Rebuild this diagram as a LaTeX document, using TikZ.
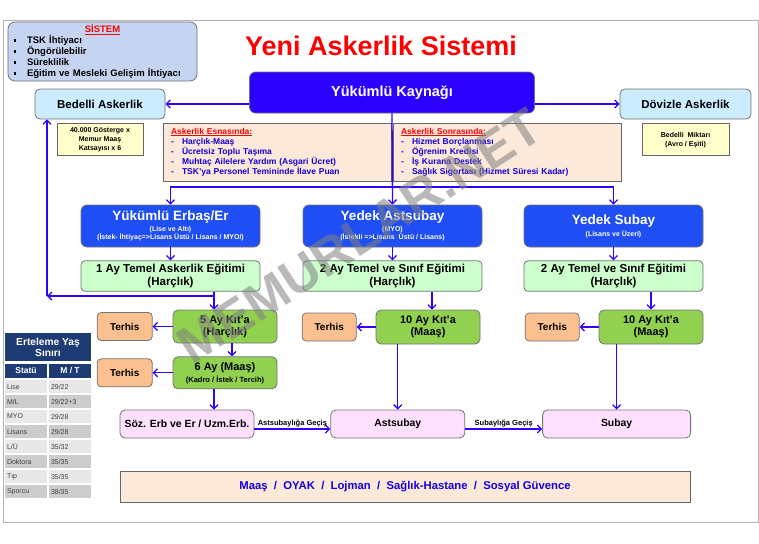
\documentclass[tikz,border=0pt]{standalone}
\usepackage{fontspec}
\setmainfont{Liberation Sans}
\usetikzlibrary{arrows.meta,positioning}
\definecolor{sysfill}{RGB}{197,212,240}
\definecolor{bedfill}{RGB}{204,236,255}
\definecolor{notefill}{RGB}{255,255,204}
\definecolor{peach}{RGB}{252,233,217}
\definecolor{srcblue}{RGB}{43,0,255}
\definecolor{rankblue}{RGB}{31,78,245}
\definecolor{lightgreen}{RGB}{204,255,204}
\definecolor{darkgreen}{RGB}{146,208,80}
\definecolor{orangebox}{RGB}{250,192,144}
\definecolor{pinkbox}{RGB}{255,224,255}
\definecolor{arrowblue}{RGB}{51,0,255}
\definecolor{itemblue}{RGB}{20,0,220}
\definecolor{tabhead}{RGB}{31,59,115}
\definecolor{rowlight}{RGB}{232,232,232}
\definecolor{rowdark}{RGB}{204,204,204}
\newcommand{\blt}{\makebox[15pt][l]{\hspace{2pt}\rule[1.8pt]{2.4pt}{2.4pt}}}
\newcommand{\dsh}{\makebox[11pt][l]{-}}
\tikzset{sysbox/.style={rectangle,rounded corners=7pt,draw=black!55,fill=sysfill,thick,minimum width=189pt,minimum height=59pt,text width=181pt,inner xsep=4pt,inner ysep=1pt,align=left,font=\fontsize{9.5}{11}\selectfont\bfseries}}
\tikzset{askbox/.style={rectangle,rounded corners=5pt,draw=black!55,fill=bedfill,thick,minimum width=130pt,minimum height=30pt,font=\fontsize{11.5}{13}\selectfont\bfseries}}
\tikzset{notebox/.style={rectangle,draw=black!60,fill=notefill,thick,minimum width=86pt,minimum height=32pt,align=center,font=\fontsize{7}{9}\selectfont\bfseries}}
\tikzset{srcbox/.style={rectangle,rounded corners=6pt,draw=black!55,fill=srcblue,thick,minimum width=285pt,minimum height=41pt,text=white,font=\fontsize{14.5}{16}\selectfont\bfseries}}
\tikzset{perkbox/.style={rectangle,draw=black!60,fill=peach,thick,minimum width=228pt,minimum height=58pt,text width=212pt,inner xsep=8pt,align=left,text=itemblue,font=\fontsize{8.5}{10}\selectfont\bfseries}}
\tikzset{rankbox/.style={rectangle,rounded corners=6pt,draw=black!55,fill=rankblue,thick,minimum width=179pt,minimum height=42pt,align=center,text=white,font=\fontsize{7}{8.5}\selectfont\bfseries}}
\tikzset{trainbox/.style={rectangle,rounded corners=4pt,draw=black!55,fill=lightgreen,thick,minimum width=179pt,minimum height=28pt,align=center,font=\fontsize{11.5}{13}\selectfont\bfseries}}
\tikzset{dutybox/.style={rectangle,rounded corners=5pt,draw=black!55,fill=darkgreen,thick,minimum width=104pt,minimum height=33pt,align=center,font=\fontsize{11}{12}\selectfont\bfseries}}
\tikzset{endbox/.style={rectangle,rounded corners=4pt,draw=black!55,fill=orangebox,thick,minimum width=55pt,minimum height=28pt,font=\fontsize{10}{12}\selectfont\bfseries}}
\tikzset{careerbox/.style={rectangle,rounded corners=5pt,draw=black!55,fill=pinkbox,thick,minimum height=28pt,font=\fontsize{10.4}{12}\selectfont\bfseries}}
\tikzset{gainbar/.style={rectangle,draw=black!60,fill=peach,thick,minimum width=570pt,minimum height=31pt,text=itemblue,font=\fontsize{11.3}{13}\selectfont\bfseries}}
\tikzset{headcell/.style={rectangle,fill=tabhead,text=white,minimum width=42pt,minimum height=14pt,inner sep=0pt,font=\fontsize{8.5}{10}\selectfont\bfseries}}
\tikzset{cell/.style={rectangle,minimum height=13pt,text width=38pt,inner xsep=2pt,inner ysep=0pt,align=left,text=black!75,font=\fontsize{7}{8}\selectfont}}
\tikzset{toArrow/.style={-{Straight Barb[length=4pt,width=8pt]},line width=1.3pt,draw=arrowblue}}
\tikzset{stepLabel/.style={above,inner sep=1.5pt,font=\fontsize{7.5}{9}\selectfont\bfseries}}

\begin{document}
\begin{tikzpicture}[x=1pt,y=-1pt]
\useasboundingbox (0,0) rectangle (759,543);
\draw[black!30,thick] (3,20) rectangle (758,522);

% top row
\node (sistem) [sysbox] at (102.5,51.5) {\makebox[181pt]{\textcolor{red}{\underline{SİSTEM}}}\\ \blt TSK İhtiyacı\\ \blt Öngörülebilir\\ \blt Süreklilik\\ \blt Eğitim ve Mesleki Gelişim İhtiyacı};
\node (title) at (381,46) [text=red,font=\fontsize{27}{30}\selectfont\bfseries] {Yeni Askerlik Sistemi};
\node (kaynak) [srcbox] at (392,92.5) {Yükümlü Kaynağı};
\node (bedelli) [askbox] at (100,104) {Bedelli Askerlik};
\node (doviz) [askbox, minimum width=131pt] at (685.5,104) {Dövizle Askerlik};
\node (bedelnote) [notebox, below=4pt of bedelli] {40.000 Gösterge x\\Memur Maaş\\Katsayısı x 6};
\node (dovnote) [notebox, minimum width=87pt, below=4pt of doviz] {Bedelli\ \ Miktarı\\(Avro / Eşiti)};
\node (esnasi) [perkbox] at (277,152) {\textcolor{red}{\underline{Askerlik Esnasında:}}\\ \dsh Harçlık-Maaş\\ \dsh Ücretsiz Toplu Taşıma\\ \dsh Muhtaç Ailelere Yardım (Asgari Ücret)\\ \dsh TSK'ya Personel Temininde İlave Puan};
\node (sonrasi) [perkbox] at (507,152) {\textcolor{red}{\underline{Askerlik Sonrasında:}}\\ \dsh Hizmet Borçlanması\\ \dsh Öğrenim Kredisi\\ \dsh İş Kurana Destek\\ \dsh Sağlık Sigortası (Hizmet Süresi Kadar)};

% three branches
\node (erbas) [rankbox] at (170.5,226) {{\fontsize{13.5}{15}\selectfont Yükümlü Erbaş/Er}\\[2pt](Lise ve Altı)\\(İstek- İhtiyaç=>Lisans Üstü / Lisans / MYO/)};
\node (astsubay) [rankbox] at (392.5,226) {{\fontsize{13.5}{15}\selectfont Yedek Astsubay}\\[2pt](MYO)\\(İstekli =>Lisans\ \ Üstü / Lisans)};
\node (subay) [rankbox] at (613.5,226) {{\fontsize{13.5}{15}\selectfont Yedek Subay}\\[2pt](Lisans ve Üzeri)};
\node (egitim1) [trainbox, below=13pt of erbas] {1 Ay Temel Askerlik Eğitimi\\(Harçlık)};
\node (egitim2) [trainbox, below=13pt of astsubay] {2 Ay Temel ve Sınıf Eğitimi\\(Harçlık)};
\node (egitim3) [trainbox, below=13pt of subay] {2 Ay Temel ve Sınıf Eğitimi\\(Harçlık)};

% duty
\node (kita5) [dutybox] at (225,326.5) {5 Ay Kıt’a\\(Harçlık)};
\node (maas6) [dutybox, minimum height=32pt, below=13pt of kita5] {6 Ay (Maaş)\\{\fontsize{7.5}{9}\selectfont (Kadro / İstek / Tercih)}};
\node (kita10a) [dutybox, minimum height=34pt] at (428,327) {10 Ay Kıt’a\\(Maaş)};
\node (kita10b) [dutybox, minimum height=34pt] at (651,327) {10 Ay Kıt’a\\(Maaş)};
\node (terhisA) [endbox, left=20pt of kita5] {Terhis};
\node (terhisB) [endbox, left=20pt of maas6] {Terhis};
\node (terhisC) [endbox, minimum width=54pt, left=19pt of kita10a] {Terhis};
\node (terhisD) [endbox, minimum width=54pt, left=19pt of kita10b] {Terhis};

% career
\node (sozerb) [careerbox, minimum width=134pt] at (187,424) {Söz. Erb ve Er / Uzm.Erb.};
\node (astsubayP) [careerbox, minimum width=134pt, right=76pt of sozerb] {Astsubay};
\node (subayP) [careerbox, minimum width=148pt, right=77pt of astsubayP] {Subay};
\node (haklar) [gainbar] at (405,486.5) {Maaş\ \ /\ \ OYAK\ \ /\ \ Lojman\ \ /\ \ Sağlık-Hastane\ \ /\ \ Sosyal Güvence};

% deferral table
\node (erteleme) [headcell, minimum width=86pt, minimum height=28pt, align=center, font=\fontsize{10.2}{11}\selectfont\bfseries] at (48,347) {Erteleme Yaş\\Sınırı};
\node (statu) [headcell] at (26,370.5) {Statü};
\node (mt) [headcell] at (70,370.5) {M / T};
\node (c11) [cell, fill=rowlight] at (26,386.5) {Lise};
\node (c12) [cell, fill=rowlight] at (70,386.5) {29/22};
\node (c21) [cell, fill=rowdark] at (26,401.5) {M/L};
\node (c22) [cell, fill=rowdark] at (70,401.5) {29/22+3};
\node (c31) [cell, fill=rowlight] at (26,416.5) {MYO};
\node (c32) [cell, fill=rowlight] at (70,416.5) {29/28};
\node (c41) [cell, fill=rowdark] at (26,431.5) {Lisans};
\node (c42) [cell, fill=rowdark] at (70,431.5) {29/28};
\node (c51) [cell, fill=rowlight] at (26,446.5) {L/Ü};
\node (c52) [cell, fill=rowlight] at (70,446.5) {35/32};
\node (c61) [cell, fill=rowdark] at (26,461.5) {Doktora};
\node (c62) [cell, fill=rowdark] at (70,461.5) {35/35};
\node (c71) [cell, fill=rowlight] at (26,476.5) {Tıp};
\node (c72) [cell, fill=rowlight] at (70,476.5) {35/35};
\node (c81) [cell, fill=rowdark] at (26,491.5) {Sporcu};
\node (c82) [cell, fill=rowdark] at (70,491.5) {38/35};

% connectors
\coordinate (bus) at (392,187);
\coordinate (erbdrop) at (214,296);
\coordinate (bedcorner) at (47,296);
\draw[toArrow] (kaynak.west |- bedelli.east) -- (bedelli.east);
\draw[toArrow] (kaynak.east |- doviz.west) -- (doviz.west);
\draw[toArrow] (kaynak.south) -- (astsubay.north);
\draw[toArrow] (bus) -| (erbas.north);
\draw[toArrow] (bus) -| (subay.north);
\draw[toArrow] (erbas.south) -- (egitim1.north);
\draw[toArrow] (astsubay.south) -- (egitim2.north);
\draw[toArrow] (subay.south) -- (egitim3.north);
\draw[toArrow] (egitim1.south -| erbdrop) -- (kita5.north -| erbdrop);
\draw[toArrow] (egitim1.south -| erbdrop) |- (bedcorner);
\draw[toArrow] (bedcorner) -- (bedelli.south -| bedcorner);
\draw[toArrow] ([xshift=7pt]kita5.south) -- ([xshift=7pt]maas6.north);
\draw[toArrow] (kita5.west) -- (terhisA.east);
\draw[toArrow] (maas6.west) -- (terhisB.east);
\draw[toArrow] (maas6.south -| erbdrop) -- (sozerb.north -| erbdrop);
\draw[toArrow] ([xshift=4pt]kita10a.north |- egitim2.south) -- ([xshift=4pt]kita10a.north);
\draw[toArrow] (kita10a.west) -- (terhisC.east);
\draw[toArrow] (astsubayP.north |- kita10a.south) -- (astsubayP.north);
\draw[toArrow] (kita10b.north |- egitim3.south) -- (kita10b.north);
\draw[toArrow] (kita10b.west) -- (terhisD.east);
\draw[toArrow] (subayP.north |- kita10b.south) -- (subayP.north);
\draw[toArrow] ([yshift=-5pt]sozerb.east) -- node[stepLabel] {Astsubaylığa Geçiş} ([yshift=-5pt]astsubayP.west);
\draw[toArrow] ([yshift=-5pt]astsubayP.east) -- node[stepLabel] {Subaylığa Geçiş} ([yshift=-5pt]subayP.west);

% watermark
\node (damga) at (360,236) [rotate=33,text=gray,opacity=0.55,font=\fontsize{52}{52}\selectfont\bfseries] {MEMURLAR.NET};
\end{tikzpicture}
\end{document}
